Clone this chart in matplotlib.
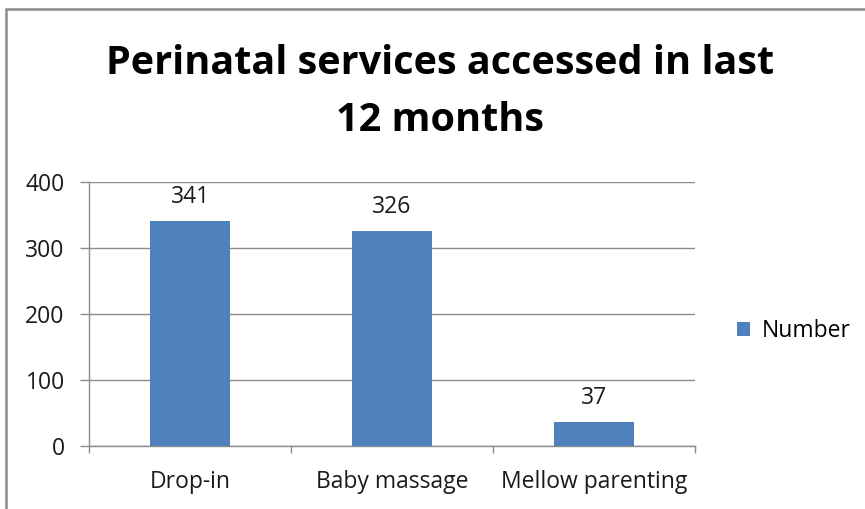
import matplotlib.pyplot as plt
from matplotlib.patches import Rectangle

categories = ["Drop-in", "Baby massage", "Mellow parenting"]
values = [341, 326, 37]
series_name = "Number"
title = "Perinatal services accessed in last\n12 months"

plt.rcParams['font.family'] = ['Open Sans', 'DejaVu Sans']

fig = plt.figure(figsize=(8.65, 5.09), dpi=100)
ax = fig.add_axes([89 / 865, 1 - 446 / 509, 606 / 865, 264 / 509])

x = list(range(len(categories)))
bars = ax.bar(x, values, width=0.4, color="#4F81BD", label=series_name, zorder=3)

for xi, v in zip(x, values):
    ax.annotate(str(v), (xi, v), xytext=(0, 13), textcoords="offset points",
                ha="center", va="baseline", fontsize=16.5, color="#1a1a1a")

ax.set_xlim(-0.5, len(categories) - 0.5)
ax.set_ylim(0, 400)
ax.set_yticks([0, 100, 200, 300, 400])
ax.grid(axis="y", color="#8c8c8c", linewidth=1, zorder=0)

# category ticks sit between categories, labels centred under bars
ax.set_xticks([-0.5, 0.5, 1.5, 2.5])
ax.set_xticklabels([])
ax.set_xticks(x, minor=True)
ax.set_xticklabels(categories, minor=True, fontsize=16.5, color="#1a1a1a")
ax.tick_params(axis="x", which="minor", length=0, pad=17)
ax.tick_params(axis="x", which="major", length=5, color="#8c8c8c", width=1)
ax.tick_params(axis="y", length=6.5, color="#8c8c8c", width=1, labelsize=16.5,
               labelcolor="#1a1a1a", pad=11)

for side in ["top", "right"]:
    ax.spines[side].set_visible(False)
for side in ["left", "bottom"]:
    ax.spines[side].set_color("#8c8c8c")
    ax.spines[side].set_linewidth(1)

fig.text(440 / 865, 1 - 92 / 509, title, ha="center", va="center",
         fontsize=28.5, fontweight="bold", linespacing=1.6, color="#000000")

fig.legend(handles=[bars], labels=[series_name], loc="center left",
           bbox_to_anchor=(716 / 865, 1 - 331 / 509), frameon=False,
           fontsize=16.5, handlelength=0.6, handleheight=0.6, handletextpad=0.5)

# chart border (only top and left edges fall inside the image)
fig.patches.append(Rectangle((5.5 / 865, -0.1), 1.2, 1 - 8.5 / 509 + 0.1,
                             transform=fig.transFigure, fill=False,
                             edgecolor="#8c8c8c", linewidth=1.8))

fig.savefig("out.png", dpi=100)
